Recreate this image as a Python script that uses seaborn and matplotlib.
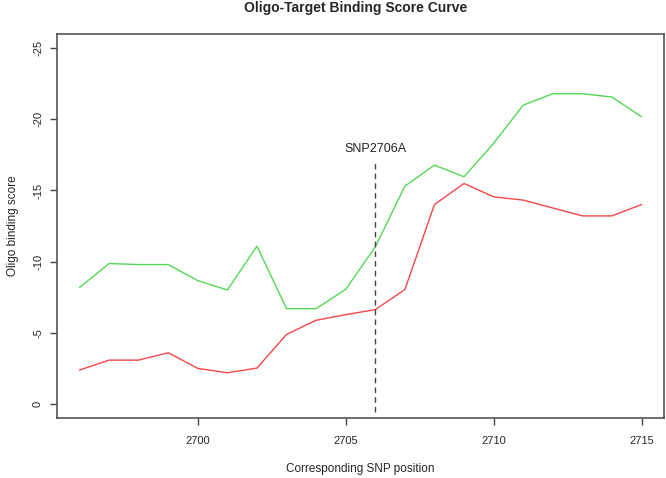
import numpy as np
import pandas as pd
import matplotlib
matplotlib.use("Agg")
import matplotlib.pyplot as plt
import seaborn as sns

positions = list(range(2696, 2716))
green_scores = [-8.17, -9.86, -9.79, -9.79, -8.66, -8.0, -11.08, -6.69, -6.69, -8.05,
                -11.03, -15.3, -16.78, -15.96, -18.31, -21.0, -21.8, -21.8, -21.57, -20.18]
red_scores = [-2.37, -3.07, -3.07, -3.59, -2.49, -2.18, -2.51, -4.88, -5.87, -6.27,
              -6.62, -8.03, -14.01, -15.49, -14.55, -14.32, -13.77, -13.21, -13.21, -14.01]
series_names = ["green", "red"]
snp_position = 2706
snp_label = "SNP2706A"
x_ticks = [2700, 2705, 2710, 2715]
y_ticks = [0, -5, -10, -15, -20, -25]

df = pd.DataFrame({
    "pos": positions * 2,
    "score": green_scores + red_scores,
    "series": [series_names[0]] * len(positions) + [series_names[1]] * len(positions),
})

sns.set_theme(style="white")
plt.rcParams['font.family'] = ['Liberation Sans', 'DejaVu Sans']

fig = plt.figure(figsize=(6.66, 4.78), dpi=100)
ax = fig.add_axes([57/666, 1 - 418/478, (664 - 57)/666, (418 - 34)/478])

sns.lineplot(data=df, x="pos", y="score", hue="series",
             palette={"green": "#55d855", "red": "#f24848"},
             linewidth=1.0, legend=False, ax=ax, estimator=None, sort=False)

ax.plot([snp_position, snp_position], [0.6, -17.0], linestyle=(0, (4, 3)),
        color="#444444", linewidth=1.0)
ax.text(snp_position, -17.9, snp_label, ha="center", va="center", fontsize=9, color="#222222")

ax.set_xlim(2695.24, 2715.76)
ax.set_ylim(1.0, -26.0)
ax.set_xticks(x_ticks)
ax.set_xticklabels([str(t) for t in x_ticks], fontsize=8)
ax.set_yticks(y_ticks)
ax.set_yticklabels([str(t) for t in y_ticks], fontsize=8, rotation=90, va="center")
ax.tick_params(axis="both", direction="out", length=5, width=1, color="#444444",
               bottom=True, left=True)
ax.tick_params(axis="x", pad=8)
ax.tick_params(axis="y", pad=5)
for s in ax.spines.values():
    s.set_color("#555555")
    s.set_linewidth(1.2)
    s.set_visible(True)

ax.set_xlabel("Corresponding SNP position", fontsize=8.5, labelpad=12)
ax.set_ylabel("Oligo binding score", fontsize=8.5, labelpad=10)
fig.text(356/666, 1 - 8/478, "Oligo-Target Binding Score Curve", ha="center", va="center",
         fontsize=10, fontweight="bold")

fig.savefig("out.png", dpi=100)
